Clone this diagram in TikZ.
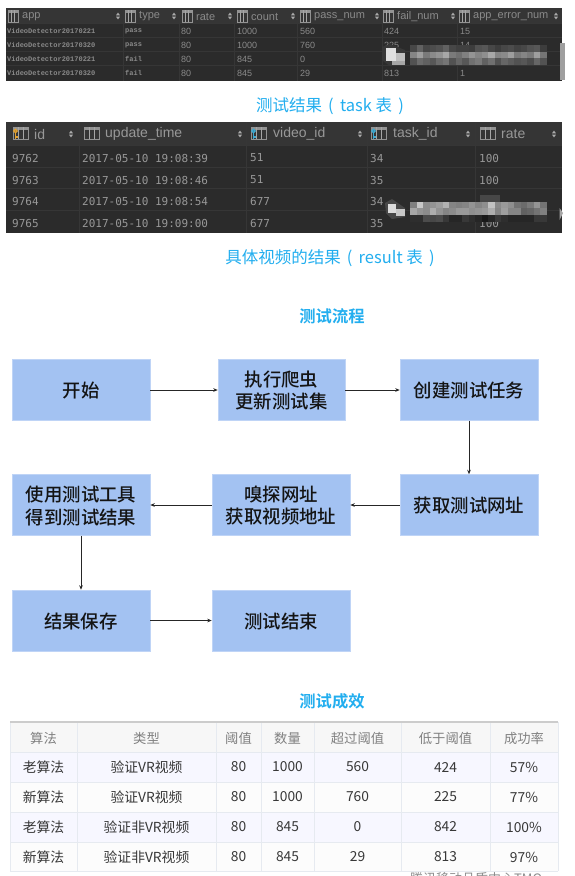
\documentclass[tikz,border=0pt]{standalone}
\usepackage{fontspec}
\setmainfont{Noto Sans CJK SC}[BoldFont={Noto Sans CJK SC Bold}]
\newfontfamily\medf{Noto Sans CJK SC Medium}
\newfontfamily\latfont{Liberation Sans}
\newfontfamily\monoa{Liberation Mono}
\newfontfamily\monob{DejaVu Sans Mono}
\usetikzlibrary{arrows.meta}
\definecolor{cap}{HTML}{22AEEF}
\definecolor{boxfill}{HTML}{A3C2F2}
\definecolor{darkbg}{HTML}{2B2B2B}
\definecolor{darkhd}{HTML}{353535}
\definecolor{darkln}{HTML}{363636}
\definecolor{txta}{HTML}{8A8A8A}
\definecolor{txtb}{HTML}{989898}
\definecolor{keyo}{HTML}{E0A030}
\definecolor{keyb}{HTML}{3FA9D0}
\definecolor{cell}{HTML}{E6EAF0}
\newcommand{\fs}[1]{\fontsize{#1}{#1}\selectfont}
\newcommand{\ticon}[3]{%
  \draw[gray!85,line width=.6pt,fill=darkhd] (#1,#2) rectangle ++(#3,12);
  \fill[gray!85] (#1,#2) rectangle ++(#3,2.5);
  \draw[gray!70,line width=.5pt] ({#1+#3/3},#2) -- ++(0,12) ({#1+2*#3/3},#2) -- ++(0,12);}
\newcommand{\sortm}[2]{%
  \fill[gray!65] ({#1-2},{#2-.7}) -- ({#1+2},{#2-.7}) -- (#1,{#2-3.4}) -- cycle
                 ({#1-2},{#2+.7}) -- ({#1+2},{#2+.7}) -- (#1,{#2+3.4}) -- cycle;}
\newcommand{\keym}[3]{%
  \draw[#3,line width=1.4pt] (#1,#2) circle (1.7pt);
  \draw[#3,line width=1.2pt] (#1,{#2+1.7}) -- (#1,{#2+8}) (#1,{#2+6}) -- ++(2,0);}
\newcommand{\pixrow}[3]{%
  \foreach \g [count=\n from 0] in {#3}{\fill[black!\g!white] ({#1+6.5*\n},#2) rectangle ++(6.6,6.8);}}
\newcommand{\pgap}{\hspace{2.5pt}}
\tikzset{
  caption/.style={text=cap,inner sep=0pt},
  title/.style={text=cap,inner sep=0pt,font=\bfseries\fs{16.3}},
  flow/.style={fill=boxfill,draw=boxfill!70!white,line width=.5pt,text=black!92,align=center,
    inner sep=0pt,font=\medf\fs{18.4},text depth=0pt},
  arr/.style={draw=black!85,line width=.8pt,-{Stealth[length=4.5pt,width=3.6pt]}},
  hda/.style={text=txta,anchor=west,inner sep=0pt,font=\latfont\fs{11}},
  bda/.style={text=txta,anchor=west,inner sep=0pt,font=\latfont\fs{9}},
  bdm/.style={text=txta,anchor=west,inner sep=0pt,font=\monoa\bfseries\fs{7}},
  hdb/.style={text=txtb,anchor=west,inner sep=0pt,font=\latfont\fs{14}},
  bdb/.style={text=txtb,anchor=west,inner sep=0pt,font=\monob\fs{11}},
  th/.style={text=black!50,inner sep=0pt,font=\fs{13.3}},
  td/.style={text=black!78,inner sep=0pt,font=\fs{13.8}},
}
\begin{document}
\begin{tikzpicture}[x=1pt,y=-1pt]
\useasboundingbox (0,0) rectangle (574,876);
\fill[white] (0,0) rectangle (574,876);

% ---------- task table
\fill[darkbg] (6,8) rectangle (562,81);
\fill[darkhd] (6,8) rectangle (562,23);
\foreach \y in {23,37.5,51,65}{\draw[darkln,line width=.6pt] (6,\y) -- (562,\y);}
\foreach \x in {123,179,234,297,382,457}{\draw[darkln,line width=.6pt] (\x,8) -- (\x,81);}
\foreach \x/\ix/\t/\s [count=\i] in {22/8/app/118,139/125/type/174,196/182/rate/230,251/237/count/293,314/300/pass\_num/377,397/383/fail\_num/453,473/459/app\_error\_num/556}{
  \ticon{\ix}{10}{10}
  \sortm{\s}{16}
  \node[hda] (ah\i) at (\x,16.5) {\t};
}
\foreach \y/\a/\b/\c/\d/\e/\f/\g [count=\i] in {
  31/VideoDetector20170221/pass/80/1000/560/424/15,
  45/VideoDetector20170320/pass/80/1000/760/225/14,
  59/VideoDetector20170221/fail/80/845/0//,
  73/VideoDetector20170320/fail/80/845/29/813/1}{
  \node[bdm] (aa\i) at (7,\y) {\a};
  \node[bdm] (ab\i) at (125,\y) {\b};
  \node[bda] (ac\i) at (181,\y) {\c};
  \node[bda] (ad\i) at (237,\y) {\d};
  \node[bda] (ae\i) at (300,\y) {\e};
  \node[bda] (af\i) at (384,\y) {\f};
  \node[bda] (ag\i) at (460,\y) {\g};
}
\fill[gray!75] (560,43) rectangle (565,80);
% blurred patch, task table
\fill[black!78!white] (382,47) -- (390,44) -- (405,50) -- (405,65) -- (390,66) -- (382,60) -- cycle;
\fill[black!12!white] (386,48) rectangle (396,61);
\fill[black!25!white] (396,53) rectangle (405,61);
\fill[black!35!white] (392,61) rectangle (405,65);
\pixrow{410}{45}{72,62,72,70,68,62,72,75,75,76,68,66,72,76,72,70,74,72,68,66,76}
\pixrow{410}{51.7}{48,38,52,46,42,34,52,56,50,42,48,44,34,48,46,38,52,48,52,38,54}
\pixrow{410}{58.4}{68,58,62,66,58,54,68,60,66,56,52,62,56,68,60,64,68,66,70,60,68}

% caption 1
\node[caption,font=\fs{16.5}] (cap1) at (330,106) {测试结果\pgap{} (\pgap{} task 表\pgap{} )\pgap{}};

% ---------- result table
\fill[darkbg] (6,122) rectangle (562,233);
\fill[darkhd] (6,122) rectangle (562,145);
\foreach \y in {145,167,188,210}{\draw[darkln,line width=1pt] (6,\y) -- (562,\y);}
\foreach \x in {79,246,367,475}{\draw[darkln,line width=1pt] (\x,122) -- (\x,233);}
\foreach \x/\t/\s/\px [count=\i] in {13/id/71/34,84/update\_time/240/105,251/video\_id/360/273,371/task\_id/468/393,480/rate/554/501}{
  \ticon{\x}{127}{15}
  \sortm{\s}{134}
  \node[hdb] (bh\i) at (\px,134) {\t};
}
\keym{15.5}{131}{keyo}
\keym{253.5}{131}{keyb}
\keym{373.5}{131}{keyb}
\foreach \y/\a/\b/\c/\d/\e [count=\i] in {
  158/9762/2017-05-10 19:08:39/51/34/100,
  180/9763/2017-05-10 19:08:46/51/35/100,
  201/9764/2017-05-10 19:08:54/677/34/,
  223/9765/2017-05-10 19:09:00/677/35/100}{
  \node[bdb] (ba\i) at (12,\y) {\a};
  \node[bdb] (bb\i) at (82,\y) {\b};
  \node[bdb] (bc\i) at (250,\y) {\c};
  \node[bdb] (bd\i) at (370,\y) {\d};
  \node[bdb] (be\i) at (479,\y) {\e};
}
% blurred patch, result table
\fill[black!72!white] (385,203) -- (392,199) -- (405,208) -- (405,217) -- (392,219) -- (386,213) -- cycle;
\fill[black!14!white] (388,204) rectangle (396,213);
\fill[black!22!white] (396,209) rectangle (405,216);
\fill[black!72!white] (480,195) rectangle (500,202);
\pixrow{410}{201.5}{50,22,45,42,38,30,48,50,48,42,48,44,24,46,40,44,55,58,52,42,55}
\pixrow{410}{208.2}{35,42,45,32,42,48,45,40,40,44,42,40,32,48,38,48,48,62,60,55,50}
\pixrow{410}{214.9}{82,82,70,72,70,78,85,85,78,82,85,90,85,78,82,85,85,85,85,78,78}
\fill[gray!70] (559.5,208) -- (563,213) -- (559.5,220) -- cycle;

% caption 2
\node[caption,font=\fs{16.5}] (cap2) at (330,258) {具体视频的结果\pgap{} (\pgap{} result 表\pgap{} )\pgap{}};

% ---------- flow
\node[title] (ttl1) at (332,316) {测试流程};
\node[flow,minimum width=138pt,minimum height=61pt] (start) at (81,390) {开始};
\node[flow,minimum width=127pt,minimum height=61pt] (crawl) at (281.5,390) {执行爬虫\\[4pt]更新测试集};
\node[flow,minimum width=138pt,minimum height=61pt] (create) at (469,390) {创建测试任务};
\node[flow,minimum width=138pt,minimum height=61pt] (fetch) at (469,505) {获取测试网址};
\node[flow,minimum width=138pt,minimum height=61pt] (sniff) at (281,505) {嗅探网址\\[4pt]获取视频地址};
\node[flow,minimum width=138pt,minimum height=61pt] (tool) at (81,505) {使用测试工具\\[4pt]得到测试结果};
\node[flow,minimum width=138pt,minimum height=61pt] (save) at (81,620.5) {结果保存};
\node[flow,minimum width=138pt,minimum height=61pt] (finish) at (281,620.5) {测试结束};
\draw[arr] (start) -- (crawl);
\draw[arr] (crawl) -- (create);
\draw[arr] (create) -- (fetch);
\draw[arr] (fetch) -- (sniff);
\draw[arr] (sniff) -- (tool);
\draw[arr] (tool) -- (save);
\draw[arr] (save) -- (finish);

% ---------- results table
\node[title] (ttl2) at (332,701) {测试成效};
\fill[white!97!black] (10,722) rectangle (558,752);
\fill[blue!3!white] (10,752) rectangle (558,782);
\fill[white!99!black] (10,782) rectangle (558,812);
\fill[blue!3!white] (10,812) rectangle (558,842);
\fill[white!99!black] (10,842) rectangle (558,871);
\foreach \y in {752,782,812,842,871}{\draw[cell,line width=.7pt] (10,\y) -- (558,\y);}
\foreach \x in {10,77,216,261,314,401,490,558}{\draw[cell,line width=.7pt] (\x,722) -- (\x,871);}
\draw[black!20,line width=1.6pt] (10,722) -- (558,722);
\foreach \a/\b/\c/\d/\e/\f/\g [count=\i] in {算法/类型/阈值/数量/超过阈值/低于阈值/成功率}{
  \node[th] (ca\i) at (43.5,738) {\a};
  \node[th] (cb\i) at (146.5,738) {\b};
  \node[th] (cc\i) at (238.5,738) {\c};
  \node[th] (cd\i) at (287.5,738) {\d};
  \node[th] (ce\i) at (357.5,738) {\e};
  \node[th] (cf\i) at (445.5,738) {\f};
  \node[th] (cg\i) at (524,738) {\g};
}
\foreach \y/\a/\b/\c/\d/\e/\f/\g [count=\i] in {
  767/老算法/验证VR视频/80/1000/560/424/57\%,
  797/新算法/验证VR视频/80/1000/760/225/77\%,
  827/老算法/验证非VR视频/80/845/0/842/100\%,
  857/新算法/验证非VR视频/80/845/29/813/97\%}{
  \node[td] (da\i) at (43.5,\y) {\a};
  \node[td] (db\i) at (146.5,\y) {\b};
  \node[td] (dc\i) at (238.5,\y) {\c};
  \node[td] (dd\i) at (287.5,\y) {\d};
  \node[td] (de\i) at (357.5,\y) {\e};
  \node[td] (df\i) at (445.5,\y) {\f};
  \node[td] (dg\i) at (524,\y) {\g};
}
% cut-off watermark
\begin{scope}
\clip (370,872) rectangle (574,876);
\node[text=black!45,inner sep=0pt,font=\fs{13},anchor=west] (wm) at (410,879) {腾讯移动品质中心TMQ};
\end{scope}
\end{tikzpicture}
\end{document}
